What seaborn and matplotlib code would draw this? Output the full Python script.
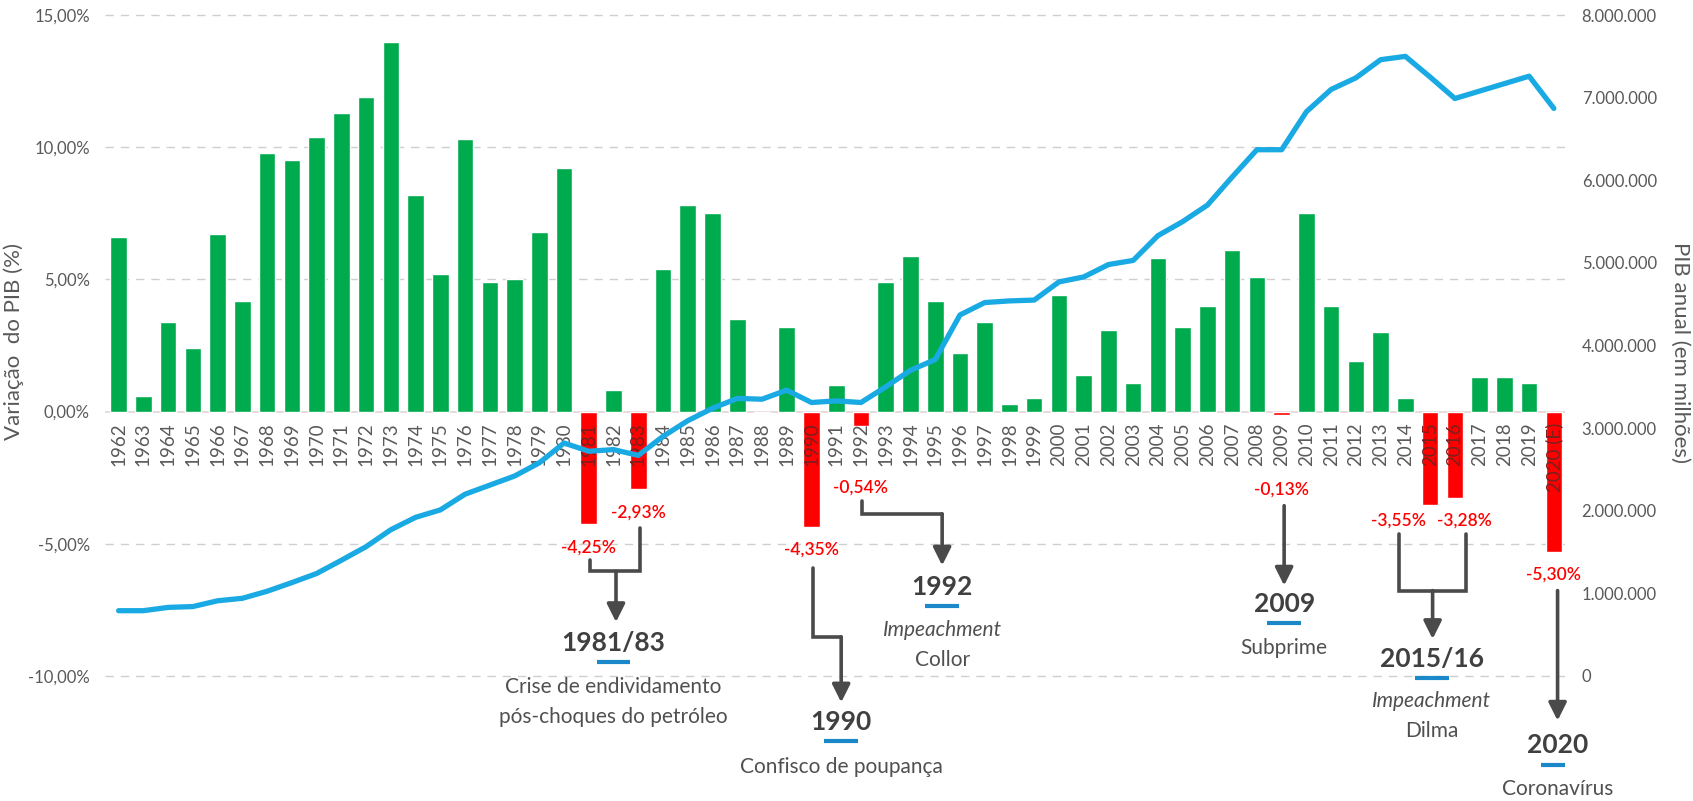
import numpy as np
import pandas as pd
import seaborn as sns
import matplotlib.pyplot as plt

# dados
anos = list(range(1962, 2021))
rotulos = [str(a) for a in anos[:-1]] + ["2020 (E)"]
var_pib = [6.6, 0.6, 3.4, 2.4, 6.7, 4.2, 9.8, 9.5, 10.4, 11.3,
           11.9, 14.0, 8.2, 5.2, 10.3, 4.9, 5.0, 6.8, 9.2, -4.25,
           0.8, -2.93, 5.4, 7.8, 7.5, 3.5, -0.06, 3.2, -4.35, 1.0,
           -0.54, 4.9, 5.9, 4.2, 2.2, 3.4, 0.3, 0.5, 4.4, 1.4,
           3.1, 1.1, 5.8, 3.2, 4.0, 6.1, 5.1, -0.13, 7.5, 4.0,
           1.9, 3.0, 0.5, -3.55, -3.28, 1.3, 1.3, 1.1, -5.30]
pib_anual = [790000, 790000, 830000, 840000, 910000, 940000, 1025000, 1130000, 1240000, 1400000,
             1565000, 1770000, 1920000, 2010000, 2200000, 2310000, 2420000, 2580000, 2820000, 2720000,
             2740000, 2670000, 2900000, 3090000, 3240000, 3360000, 3350000, 3460000, 3310000, 3330000,
             3310000, 3500000, 3700000, 3830000, 4370000, 4520000, 4540000, 4550000, 4770000, 4830000,
             4980000, 5030000, 5330000, 5500000, 5700000, 6040000, 6370000, 6370000, 6830000, 7100000,
             7240000, 7460000, 7500000, 7250000, 6990000, 7080000, 7170000, 7260000, 6870000]
cores = ["#FF0000" if v < -0.1 else "#00AB4E" for v in var_pib]

ticks_esq = [-10, -5, 0, 5, 10, 15]
ticks_dir = [0, 1e6, 2e6, 3e6, 4e6, 5e6, 6e6, 7e6, 8e6]

# anotacoes: (texto, x, y)
valores_neg = [("-4,25%", 19, -5.13), ("-2,93%", 21, -3.81), ("-4,35%", 28, -5.22),
               ("-0,54%", 30, -2.89), ("-0,13%", 47, -2.96), ("-3,55%", 51.73, -4.12),
               ("-3,28%", 54.37, -4.12), ("-5,30%", 58, -6.16)]
eventos = [  # titulo, x, y titulo, linhas de descricao
    ("1981/83", 20.0, -8.76, [("Crise de endividamento", -10.43, "normal"),
                              ("pós-choques do petróleo", -11.56, "normal")]),
    ("1990", 29.2, -11.75, [("Confisco de poupança", -13.45, "normal")]),
    ("1992", 33.28, -6.64, [("Impeachment", -8.28, "italic"), ("Collor", -9.39, "normal")]),
    ("2009", 47.1, -7.26, [("Subprime", -8.96, "normal")]),
    ("2015/16", 53.07, -9.34, [("Impeachment", -10.93, "italic"), ("Dilma", -12.09, "normal")]),
    ("2020", 58.15, -12.63, [("Coronavírus", -14.27, "normal")]),
]
# conectores (linhas) e setas
linhas = [
    ([19.05, 19.05, 21.05, 21.05], [-5.61, -6.04, -6.04, -4.41]),
    ([28.08, 28.08, 29.2], [-5.91, -8.52, -8.52]),
    ([30.05, 30.05, 33.28], [-3.37, -3.87, -3.87]),
    ([51.76, 51.76, 54.43, 54.43], [-4.63, -6.77, -6.77, -4.63]),
]
setas = [((20.1, -6.04), (20.1, -7.96)), ((29.2, -8.52), (29.2, -11.0)),
         ((33.28, -3.87), (33.28, -5.82)), ((47.1, -3.56), (47.1, -6.58)),
         ((53.1, -6.77), (53.1, -8.6)), ((58.15, -6.77), (58.15, -11.69))]

sns.set_theme(style="white")
plt.rcParams['font.family'] = ['Lato', 'DejaVu Sans']

fig = plt.figure(figsize=(16.93, 8.01), dpi=100)
ax = fig.add_axes([105 / 1693, 0, 1460 / 1693, 1])
ylo, yhi = -14.73, 15.57

df = pd.DataFrame({"ano": rotulos, "var": var_pib})
sns.barplot(data=df, x="ano", y="var", hue="ano", palette=cores, legend=False,
            width=0.67, saturation=1, ax=ax, zorder=2)
ax.set_xlim(-0.55, 58.45)
ax.set_ylim(ylo, yhi)

for t in [-10, -5, 5, 10, 15]:
    ax.axhline(t, color="#CFCFCF", lw=1, ls=(0, (6, 5)), zorder=0)
ax.axhline(0, color="#E3D6D6", lw=1.2, zorder=1)

ax.set_yticks(ticks_esq)
ax.set_yticklabels([f"{t:.2f}%".replace(".", ",") for t in ticks_esq])
ax.set_xticks([])
ax.set_xlabel("")
ax.set_ylabel("")
ax.tick_params(axis="y", length=0, pad=11, labelsize=12, labelcolor="#595959")

for i, r in enumerate(rotulos):
    cor = "#7A2020" if var_pib[i] < -1 else "#5A5A5A"
    ax.text(i, -0.4, r, rotation=90, ha="center", va="top", fontsize=13.5,
            color=cor, zorder=3)

ax2 = ax.twinx()
sns.lineplot(x=np.arange(len(anos)), y=pib_anual, ax=ax2, color="#1AAAE3", linewidth=3.8)
ax2.set_ylim((ylo + 10) / 25 * 8e6, (yhi + 10) / 25 * 8e6)
ax2.set_yticks(ticks_dir)
ax2.set_yticklabels([f"{t:,.0f}".replace(",", ".") for t in ticks_dir])
ax2.tick_params(axis="y", length=0, pad=12, labelsize=12, labelcolor="#595959")
ax2.set_ylabel("")

for a in (ax, ax2):
    for s in a.spines.values():
        s.set_visible(False)

fig.text(14 / 1693, 1 - 342 / 801, "Variação  do PIB (%)", rotation=90, ha="center",
         va="center", fontsize=16, color="#595959")
fig.text(1680 / 1693, 1 - 352 / 801, "PIB anual (em milhões)", rotation=270, ha="center",
         va="center", fontsize=16, color="#595959")

# eixo por cima para as anotacoes
ax3 = fig.add_axes(ax.get_position(), sharex=ax, frameon=False)
ax3.set_ylim(ylo, yhi)
ax3.axis("off")

for txt, x, y in valores_neg:
    ax3.text(x, y, txt, ha="center", va="center", fontsize=12.5, color="#FF0000",
             fontweight="semibold")
for xs, ys in linhas:
    ax3.plot(xs, ys, color="#4A4A4A", lw=2.6, solid_joinstyle="miter")
for (x0, y0), (x1, y1) in setas:
    ax3.annotate("", xy=(x1, y1), xytext=(x0, y0),
                 arrowprops=dict(arrowstyle="-|>,head_length=0.9,head_width=0.45",
                                 color="#4A4A4A", lw=2.6, shrinkA=0, shrinkB=0))
for titulo, x, y, desc in eventos:
    ax3.text(x, y, titulo, ha="center", va="center", fontsize=19, fontweight="bold",
             color="#404040")
    ax3.plot([x - 0.68, x + 0.68], [y - 0.72, y - 0.72], color="#1B88C9", lw=3,
             solid_capstyle="butt")
    for linha, yy, estilo in desc:
        ax3.text(x, yy, linha, ha="center", va="center", fontsize=15, style=estilo,
                 color="#505050")

fig.savefig("out.png", dpi=100, facecolor="white")
